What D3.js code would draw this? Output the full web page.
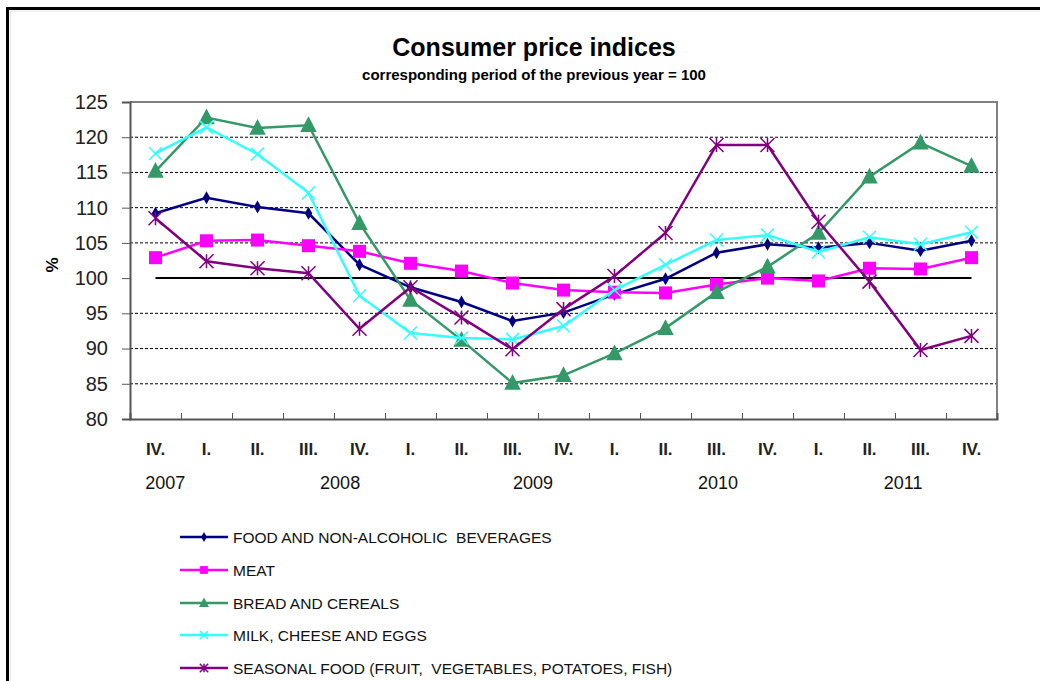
<!DOCTYPE html>
<html>
<head>
<meta charset="utf-8">
<script src="https://cdn.jsdelivr.net/npm/d3@7"></script>
<style>
  body { margin: 0; background: #fff; }
  text { font-family: "Liberation Sans", Arial, sans-serif; white-space: pre; }
</style>
</head>
<body>
<div id="canvas"></div>
<script>
"use strict"

// quarters on the x axis, 2007 Q4 .. 2011 Q4
let quarters = ["IV.", "I.", "II.", "III.", "IV.", "I.", "II.", "III.", "IV.",
                "I.", "II.", "III.", "IV.", "I.", "II.", "III.", "IV."]
let years = ["2007", "2008", "2009", "2010", "2011"]
let yearAt = [0.19, 3.62, 7.4, 11.03, 14.66]   // category index under which the year sits

let food     = [109.2, 111.4, 110.1, 109.2, 101.9, 98.7, 96.6, 93.9, 95.1, 97.7, 99.9, 103.6, 104.8, 104.3, 105.0, 103.9, 105.3]
let meat     = [102.9, 105.3, 105.4, 104.6, 103.8, 102.1, 101.0, 99.3, 98.3, 98.0, 97.9, 99.1, 100.0, 99.6, 101.4, 101.3, 102.9]
let bread    = [115.2, 122.8, 121.3, 121.7, 107.8, 96.9, 91.2, 85.1, 86.2, 89.3, 92.9, 98.0, 101.6, 106.4, 114.4, 119.2, 115.9]
let milk     = [117.7, 121.4, 117.6, 112.1, 97.5, 92.2, 91.5, 91.3, 93.2, 98.3, 101.9, 105.4, 106.1, 103.7, 105.8, 104.8, 106.5]
let seasonal = [108.5, 102.4, 101.4, 100.7, 92.8, 98.7, 94.4, 89.9, 95.6, 100.3, 106.4, 118.9, 118.9, 108.0, 99.5, 89.8, 91.8]

let seriesNames = ["FOOD AND NON-ALCOHOLIC  BEVERAGES", "MEAT", "BREAD AND CEREALS",
                   "MILK, CHEESE AND EGGS", "SEASONAL FOOD (FRUIT,  VEGETABLES, POTATOES, FISH)"]
let yTicks = [80, 85, 90, 95, 100, 105, 110, 115, 120, 125]

let series = [
    { name: seriesNames[0], values: food,     color: "#000080", marker: "diamond" },
    { name: seriesNames[1], values: meat,     color: "#ff00ff", marker: "square" },
    { name: seriesNames[2], values: bread,    color: "#339966", marker: "triangle" },
    { name: seriesNames[3], values: milk,     color: "#33ffff", marker: "cross" },
    { name: seriesNames[4], values: seasonal, color: "#800080", marker: "star" }
]

let drawing = d3.select("#canvas")
    .append("svg")
    .attr("width", 1040)
    .attr("height", 681)

// outer frame (left and top only are visible)
drawing.append("path")
    .attr("d", "M7.5,681 V8.5 H1040")
    .attr("fill", "none")
    .attr("stroke", "black")
    .attr("stroke-width", 3)
drawing.append("path")
    .attr("d", "M10.5,681 V11 H1040")
    .attr("fill", "none")
    .attr("stroke", "#e4e4e4")
    .attr("stroke-width", 1)

// titles
drawing.append("text")
    .attr("x", 534).attr("y", 56)
    .attr("text-anchor", "middle")
    .attr("font-size", 25).attr("font-weight", "bold")
    .text("Consumer price indices")
drawing.append("text")
    .attr("x", 534).attr("y", 80)
    .attr("text-anchor", "middle")
    .attr("font-size", 15).attr("font-weight", "bold")
    .text("corresponding period of the previous year = 100")

let plotLeft = 130, plotRight = 997, plotTop = 102, plotBottom = 419

let x = d3.scaleLinear().domain([-0.5, quarters.length - 0.5]).range([plotLeft, plotRight])
let y = d3.scaleLinear().domain([80, 125]).range([plotBottom, plotTop])

// dashed gridlines (not at 100, that one is solid)
drawing.append("g")
    .selectAll("line")
    .data(yTicks.filter(d => d > 80 && d < 125 && d !== 100))
    .join("line")
    .attr("x1", plotLeft).attr("x2", plotRight)
    .attr("y1", d => y(d)).attr("y2", d => y(d))
    .attr("stroke", "black")
    .attr("stroke-width", 1)
    .attr("stroke-dasharray", "3,2")

// plot border top + right
drawing.append("path")
    .attr("d", `M${plotLeft},${plotTop} H${plotRight} V${plotBottom}`)
    .attr("fill", "none")
    .attr("stroke", "#808080")
    .attr("stroke-width", 2)

// y axis
let yAxis = drawing.append("g")
    .attr("transform", `translate(${plotLeft},0)`)
    .call(d3.axisLeft(y).tickValues(yTicks).tickSize(8).tickPadding(14))
yAxis.select(".domain").attr("stroke", "#555").attr("stroke-width", 2)
yAxis.selectAll(".tick line").attr("stroke", "#555")
yAxis.selectAll("text")
    .attr("font-size", 20)
    .attr("fill", "#222")
    .attr("font-family", "Liberation Sans, Arial, sans-serif")

drawing.append("text")
    .attr("transform", "translate(58,265) rotate(-90)")
    .attr("text-anchor", "middle")
    .attr("font-size", 17).attr("font-weight", "bold")
    .text("%")

// x axis with ticks pointing up, between the categories
let xAxis = drawing.append("g")
    .attr("transform", `translate(0,${plotBottom})`)
    .call(d3.axisBottom(x)
        .tickValues(d3.range(quarters.length + 1).map(i => i - 0.5))
        .tickSize(-6)
        .tickFormat(""))
xAxis.select(".domain").attr("stroke", "#555").attr("stroke-width", 2)
xAxis.selectAll(".tick line").attr("stroke", "#555")

drawing.append("g")
    .selectAll("text")
    .data(quarters)
    .join("text")
    .attr("x", (d, i) => x(i))
    .attr("y", 455)
    .attr("text-anchor", "middle")
    .attr("font-size", 17).attr("font-weight", "bold")
    .attr("fill", "#222")
    .text(d => d)

drawing.append("g")
    .selectAll("text")
    .data(years)
    .join("text")
    .attr("x", (d, i) => x(yearAt[i]))
    .attr("y", 489)
    .attr("text-anchor", "middle")
    .attr("font-size", 18)
    .attr("fill", "#111")
    .text(d => d)

// reference line at 100 from first to last category
drawing.append("line")
    .attr("x1", x(0)).attr("x2", x(quarters.length - 1))
    .attr("y1", y(100)).attr("y2", y(100))
    .attr("stroke", "black")
    .attr("stroke-width", 2)

function drawMarker(g, type, color, size) {
    if (type === "diamond") {
        g.append("path").attr("d", d3.symbol(d3.symbolDiamond, size * 6)())
            .attr("fill", color)
    } else if (type === "square") {
        g.append("rect").attr("x", -size / 2).attr("y", -size / 2)
            .attr("width", size).attr("height", size).attr("fill", color)
    } else if (type === "triangle") {
        g.append("path").attr("d", `M0,${-size * 0.6} L${size * 0.55},${size * 0.45} L${-size * 0.55},${size * 0.45} Z`)
            .attr("fill", color)
    } else if (type === "cross") {
        let s = size / 2
        g.append("path").attr("d", `M${-s},${-s} L${s},${s} M${-s},${s} L${s},${-s}`)
            .attr("stroke", color).attr("stroke-width", 1.5)
    } else if (type === "star") {
        let s = size / 2
        g.append("path").attr("d", `M${-s},${-s} L${s},${s} M${-s},${s} L${s},${-s} M0,${-s} V${s}`)
            .attr("stroke", color).attr("stroke-width", 1.5)
    }
}

let markerSize = { diamond: 8, square: 13, triangle: 15, cross: 13, star: 14 }

let line = d3.line()
    .x((d, i) => x(i))
    .y(d => y(d))

series.forEach(s => {
    drawing.append("path")
        .datum(s.values)
        .attr("d", line)
        .attr("fill", "none")
        .attr("stroke", s.color)
        .attr("stroke-width", 2.5)
    s.values.forEach((v, i) => {
        let g = drawing.append("g").attr("transform", `translate(${x(i)},${y(v)})`)
        drawMarker(g, s.marker, s.color, markerSize[s.marker])
    })
})

// legend
let legendY = [537, 570, 603, 635, 668]
series.forEach((s, i) => {
    let g = drawing.append("g").attr("transform", `translate(0,${legendY[i]})`)
    g.append("line")
        .attr("x1", 180).attr("x2", 228)
        .attr("stroke", s.color).attr("stroke-width", 2.5)
    let m = g.append("g").attr("transform", "translate(204,0)")
    drawMarker(m, s.marker, s.color, markerSize[s.marker] * 0.6)
    g.append("text")
        .attr("x", 233).attr("y", 6)
        .attr("font-size", 15.5)
        .attr("fill", "#111")
        .text(s.name)
})
</script>
</body>
</html>
